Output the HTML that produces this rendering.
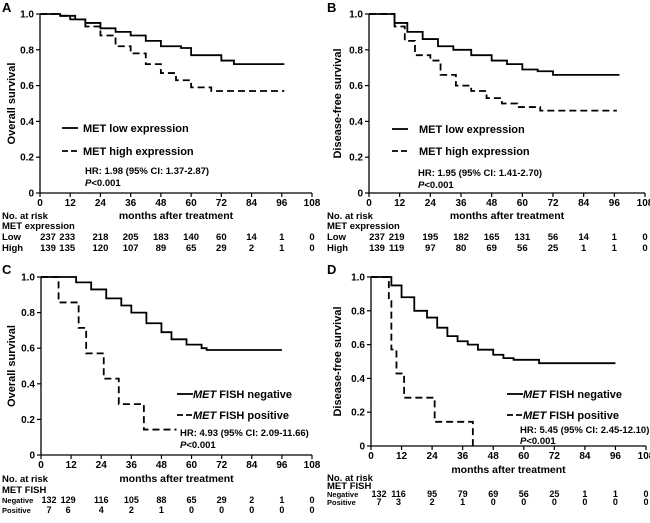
<!DOCTYPE html>
<html><head><meta charset="utf-8"><style>
body{margin:0;background:#fff}
svg{display:block;font-family:"Liberation Sans",Arial,sans-serif;font-weight:bold}
</style></head><body>
<svg id="fig" width="650" height="523" viewBox="0 0 650 523"></svg>
<script>
// ---- data ----
const tickMonths=[0,12,24,36,48,60,72,84,96,108];
const yTicks=[0,0.2,0.4,0.6,0.8,1.0];
const aLowT=[0,8,12,18,24,30,36,42,48,56,60,68,72,77,97];
const aLowS=[1,0.99,0.97,0.95,0.92,0.90,0.88,0.85,0.82,0.81,0.77,0.77,0.74,0.72,0.72];
const aHighT=[0,8,14,18,24,30,36,42,48,54,60,68,97];
const aHighS=[1,0.99,0.97,0.93,0.88,0.82,0.78,0.72,0.67,0.63,0.59,0.57,0.57];
const bLowT=[0,6,10,15,21,27,33,40,48,54,60,66,72,98];
const bLowS=[1,1,0.95,0.90,0.86,0.82,0.80,0.77,0.74,0.72,0.69,0.68,0.66,0.66];
const bHighT=[0,6,10,14,18,24,28,34,40,46,52,58,67,97];
const bHighS=[1,1,0.93,0.85,0.77,0.74,0.66,0.60,0.57,0.53,0.50,0.48,0.46,0.46];
const cNegT=[0,10,14,20,26,32,36,42,48,52,58,64,66,96];
const cNegS=[1,1,0.97,0.93,0.88,0.84,0.80,0.74,0.69,0.65,0.62,0.60,0.59,0.59];
const cPosT=[0,7,15,18,25,31,41,54];
const cPosS=[1,0.857,0.714,0.571,0.429,0.286,0.143,0.143];
const dNegT=[0,3,8,12,17,22,26,30,34,38,42,48,52,56,66,96];
const dNegS=[1,1,0.95,0.88,0.80,0.76,0.70,0.65,0.62,0.60,0.57,0.54,0.52,0.51,0.49,0.49];
const dPosT=[0,7,8,10,13,25,40,40];
const dPosS=[1,0.857,0.571,0.429,0.286,0.143,0,0];
const aRiskLow=[237,233,218,205,183,140,60,14,1,0];
const aRiskHigh=[139,135,120,107,89,65,29,2,1,0];
const bRiskLow=[237,219,195,182,165,131,56,14,1,0];
const bRiskHigh=[139,119,97,80,69,56,25,1,1,0];
const cRiskNeg=[132,129,116,105,88,65,29,2,1,0];
const cRiskPos=[7,6,4,2,1,0,0,0,0,0];
const dRiskNeg=[132,116,95,79,69,56,25,1,1,0];
const dRiskPos=[7,3,2,1,0,0,0,0,0,0];

const NS="http://www.w3.org/2000/svg";
const svg=document.getElementById('fig');
function mk(tag,attrs,parent,text){const e=document.createElementNS(NS,tag);for(const k in attrs)e.setAttribute(k,attrs[k]);if(text!==undefined)e.textContent=text;(parent||svg).appendChild(e);return e;}

const panels=[
 {id:'a',letter:'A',lx:2,ly:12,x0:40,x1:312,yt:14,yb:193,ylab:'Overall survival',yl:11,tickY:206,titleY:219,nrY:219,r:[229,240,251],
  s:[[aLowT,aLowS,false],[aHighT,aHighS,true]],leg:{x:62,y:[128,151],tx:83,it:false,names:['MET low expression','MET high expression']},
  hr:{x:85,y:[174,186],t:'HR: 1.98 (95% CI: 1.37-2.87)'},grp:'MET  expression',rn:['Low','High'],risk:[aRiskLow,aRiskHigh]},
 {id:'b',letter:'B',lx:327,ly:12,x0:369,x1:645,yt:14,yb:193,ylab:'Disease-free survival',yl:337,tickY:206,titleY:219,nrY:219,r:[229,240,251],
  s:[[bLowT,bLowS,false],[bHighT,bHighS,true]],leg:{x:392,y:[129,151],tx:419,it:false,names:['MET low expression','MET high expression']},
  hr:{x:418,y:[176,188],t:'HR: 1.95 (95% CI: 1.41-2.70)'},grp:'MET  expression',rn:['Low','High'],risk:[bRiskLow,bRiskHigh]},
 {id:'c',letter:'C',lx:2,ly:274,x0:41,x1:312,yt:277,yb:455,ylab:'Overall survival',yl:11,tickY:468,titleY:482,nrY:482,r:[493,503,513],
  s:[[cNegT,cNegS,false],[cPosT,cPosS,true]],leg:{x:177,y:[394,415],tx:193,it:true,names:['FISH negative','FISH positive']},
  hr:{x:180,y:[436,448],t:'HR: 4.93 (95% CI: 2.09-11.66)'},grp:'MET  FISH',rn:['Negative','Positive'],risk:[cRiskNeg,cRiskPos]},
 {id:'d',letter:'D',lx:327,ly:274,x0:371,x1:646,yt:277,yb:446,ylab:'Disease-free survival',yl:337,tickY:459,titleY:473,nrY:481,r:[489,497,505],
  s:[[dNegT,dNegS,false],[dPosT,dPosS,true]],leg:{x:507,y:[394,415],tx:523,it:true,names:['FISH negative','FISH positive']},
  hr:{x:520,y:[433,444],t:'HR: 5.45 (95% CI: 2.45-12.10)'},grp:'MET  FISH',rn:['Negative','Positive'],risk:[dRiskNeg,dRiskPos]}
];

panels.forEach(p=>{
 const g=mk('g',{});
 
 
 const X=m=>p.x0+(p.x1-p.x0)*m/108, Y=v=>p.yb-(p.yb-p.yt)*v;
 const L=mk('text',{x:p.lx,y:p.ly,'font-size':13},g,p.letter);
 
 const yl=mk('text',{x:p.yl,y:(p.yt+p.yb)/2,'font-size':11,'text-anchor':'middle',transform:`rotate(-90 ${p.yl} ${(p.yt+p.yb)/2})`,dy:4},g,p.ylab);
 
 const ax=mk('path',{d:`M${p.x0} ${p.yt}V${p.yb}H${p.x1}`,stroke:'#000','stroke-width':1.3,fill:'none'},g);
 
 yTicks.forEach(v=>{
  mk('line',{x1:p.x0-4,x2:p.x0,y1:Y(v),y2:Y(v),stroke:'#000','stroke-width':1.2},g);
  const t=mk('text',{x:p.x0-6,y:Y(v)+3.5,'font-size':10,'text-anchor':'end'},g,v===0?'0':v.toFixed(1));
  
 });
 tickMonths.forEach((m,i)=>{
  mk('line',{x1:X(m),x2:X(m),y1:p.yb,y2:p.yb+4,stroke:'#000','stroke-width':1.2},g);
  const t=mk('text',{x:X(m),y:p.tickY,'font-size':10,'text-anchor':'middle'},g,String(m));
  
  p.risk.forEach((arr,j)=>{
   const off=i===0?8:(i===1?-3:0);
   const r=mk('text',{x:X(m)+off,y:p.r[1+j],'font-size':p.id>'b'?9:9.5,'text-anchor':'middle'},g,String(arr[i]));
   
  });
 });
 const xt=mk('text',{x:X(54),y:p.titleY,'font-size':10.5,'text-anchor':'middle'},g,'months after treatment');
 
 const nr=mk('text',{x:p.lx,y:p.nrY,'font-size':9.5},g,'No. at risk');
 
 const gr=mk('text',{x:p.lx,y:p.r[0],'font-size':9.5,'xml:space':'preserve'},g,p.grp);
 
 p.rn.forEach((n,j)=>{
  const t=mk('text',{x:p.lx,y:p.r[1+j],'font-size':p.id>'b'?7.5:9.5},g,n);
  
 });
 p.s.forEach(([T,S,dash],k)=>{
  let d=`M${X(T[0])} ${Y(S[0])}`;
  for(let i=1;i<T.length;i++){d+=`H${X(T[i])}V${Y(S[i])}`;}
  const path=mk('path',{d,fill:'none',stroke:'#000','stroke-width':1.8,'stroke-dasharray':dash?'7 4':'none'},g);
  
  
  const ly=p.leg.y[k];
  const ll=mk('line',{x1:p.leg.x,x2:p.leg.x+16,y1:ly,y2:ly,stroke:'#000','stroke-width':1.8,'stroke-dasharray':dash?'6 3':'none'},g);
  
  const lt=mk('text',{x:p.leg.tx,y:ly+4,'font-size':11},g);
  
  if(p.leg.it){mk('tspan',{'font-style':'italic'},lt,'MET');mk('tspan',{},lt,' '+p.leg.names[k]);}
  else lt.textContent=p.leg.names[k];
 });
 const h=mk('text',{x:p.hr.x,y:p.hr.y[0],'font-size':9.5},g,p.hr.t);
 
 const pv=mk('text',{x:p.hr.x,y:p.hr.y[1],'font-size':9.5},g);
 
 mk('tspan',{'font-style':'italic'},pv,'P');mk('tspan',{},pv,'<0.001');
});
</script>
</body></html>
